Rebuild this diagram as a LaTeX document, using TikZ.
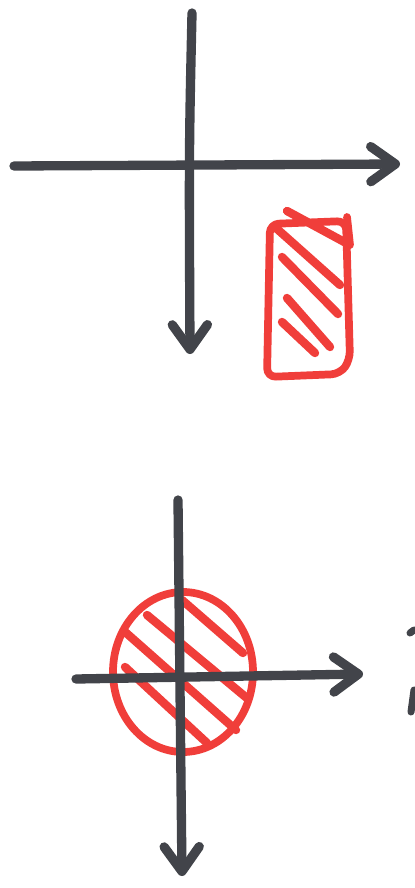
\documentclass[tikz,border=0pt]{standalone}
\usetikzlibrary{arrows.meta}
\definecolor{markergray}{RGB}{66,68,74}
\definecolor{markerred}{RGB}{240,62,58}
\tikzset{
  axisline/.style={draw=markergray, line width=5.3pt, line cap=round, line join=round,
    -{Straight Barb[length=14pt, width=20pt, round]}},
  redstroke/.style={draw=markerred, line width=4.4pt, line cap=round, line join=round},
  hatch/.style={redstroke, line width=4.8pt},
  pengray/.style={draw=markergray, line width=4pt, line cap=round}
}

\begin{document}
\begin{tikzpicture}[x=0.02cm, y=-0.02cm]
  \useasboundingbox (0,0) rectangle (414,888);

  % upper axes
  \coordinate (ux0) at (14,166);
  \coordinate (ux1) at (400,164);
  \coordinate (uy0) at (192,13);
  \coordinate (uy1) at (190,354);
  \draw[axisline] (ux0) -- (ux1);
  \draw[axisline] (uy0) .. controls (189,150) .. (uy1);

  % hatched box
  \draw[redstroke, rounded corners=5] (270,224) -- (346,221) -- (350,360)
    -- (340,374) -- (267,377) -- cycle;
  \draw[redstroke] (347,217) -- (350,245);
  \draw[hatch] (287,211) -- (348,244);
  \draw[hatch] (276,228) -- (340,285);
  \draw[hatch] (282,257) -- (338,314);
  \draw[hatch] (287,298) -- (330,347);
  \draw[hatch] (282,322) -- (315,353);

  % hatched disc
  \draw[redstroke] (183,672) ellipse [x radius=70, y radius=80];
  \draw[hatch] (182,600) -- (243,653);
  \draw[hatch] (147,615) -- (248,699);
  \draw[hatch] (124,631) -- (236,730);
  \draw[hatch] (125,667) -- (207,743);

  % lower axes
  \coordinate (lx0) at (76,679);
  \coordinate (lx1) at (363,674);
  \coordinate (ly0) at (178,500);
  \coordinate (ly1) at (182,876);
  \draw[axisline] (lx0) -- (lx1);
  \draw[axisline] (ly0) -- (ly1);

  % stray marks at the edge
  \draw[pengray] (410,633) -- (414,630);
  \draw[pengray] (411,712) -- (414,690);
\end{tikzpicture}
\end{document}
